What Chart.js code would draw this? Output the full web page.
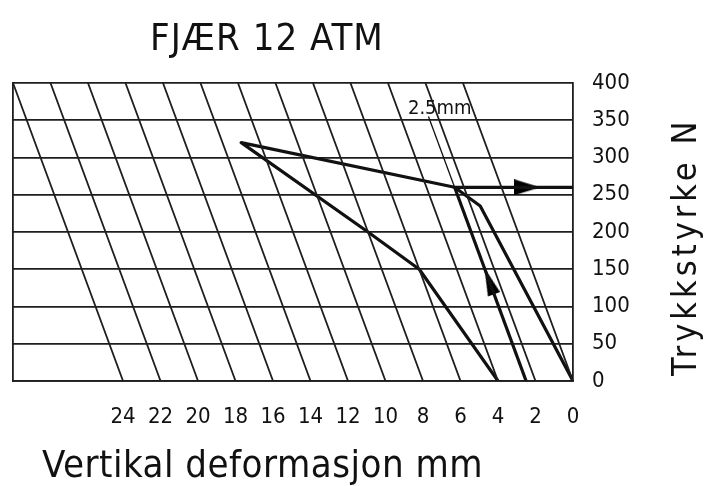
<!DOCTYPE html>
<html><head><meta charset="utf-8">
<style>html,body{margin:0;padding:0;background:#fff;}#wrap{width:710px;height:486px;}</style>
<script src="https://cdn.jsdelivr.net/npm/chart.js@4.4.0/dist/chart.umd.min.js"></script>
</head><body><div id="wrap"><canvas id="c" width="710" height="486"></canvas></div>
<script>
// ---------------- data ----------------
const chartTitle = 'FJÆR 12 ATM';
const xTitle = 'Vertikal deformasjon mm';
const yTitle = 'Trykkstyrke N';
const xTicks = [0, 2, 4, 6, 8, 10, 12, 14, 16, 18, 20, 22, 24];      // mm
const yTicks = [0, 50, 100, 150, 200, 250, 300, 350, 400];           // N
const gridDef = [0, 2, 4, 6, 8, 10, 12, 14, 16, 18, 20, 22, 24];     // lines of constant deformation (mm)
const gridForce = [0, 400];                                          // N
// curves: deformation (mm) and force (N)
const loopDef   = [4, 6, 8, 13, 2.5];
const loopForce = [0, 150, 200, 320, 260];
const unloadDef   = [2.5, 1.5, 0];
const unloadForce = [260, 235, 0];
const riseDef   = [2.5, 2.5];
const riseForce = [0, 260];
const runDef   = [2.5, -4];
const runForce = [260, 260];
const refDef   = [2.5, 2.5];          // thin "2.5mm" reference line
const refForce = [0, 355];
const noteText = '2.5mm';
const noteDef = 1.75, noteForce = 365;
const arrowDef   = [-1.37, 2.5];
const arrowForce = [260, 134];
const arrowRot   = [0, -110];

// the deformation lines lean: horizontal offset (mm on the axis) per N of force
const SHEAR = 5.87 / 400;

// ---------------- helpers ----------------
const INK = '#111';
const GRID = '#1e1e1e';
const FONT = '"DejaVu Sans Condensed", "DejaVu Sans", sans-serif';
const toPts = (defs, forces) => defs.map((d, i) => ({x: d + forces[i] * SHEAR, y: forces[i]}));
const gridPts = [];
gridDef.forEach(d => {
  gridForce.forEach(f => gridPts.push({x: d + f * SHEAR, y: f}));
  gridPts.push({x: d, y: null});
});
function arrowImg(len, wid) {
  const c = document.createElement('canvas');
  c.width = len; c.height = wid;
  const g = c.getContext('2d');
  g.fillStyle = '#000';
  g.beginPath(); g.moveTo(0, 0); g.lineTo(len, wid / 2); g.lineTo(0, wid); g.closePath(); g.fill();
  return c;
}
const arrowR = arrowImg(26, 16);
const arrowU = arrowImg(28, 13);

const textPlugin = {
  id: 'texts',
  afterDraw(chart) {
    const ctx = chart.ctx;
    const sx = chart.scales.x, sy = chart.scales.y;
    const spacing = v => { try { ctx.letterSpacing = v; } catch (e) {} };
    ctx.save();
    ctx.fillStyle = INK;
    ctx.textBaseline = 'alphabetic';
    ctx.textAlign = 'left';
    ctx.font = '38px ' + FONT;
    spacing('1px');
    ctx.fillText(chartTitle, 150, 50);
    spacing('0.5px');
    ctx.fillText(xTitle, 42, 477);
    // note
    spacing('0px');
    ctx.font = '20px ' + FONT;
    ctx.textAlign = 'center';
    ctx.textBaseline = 'middle';
    ctx.fillText(noteText, sx.getPixelForValue(noteDef + noteForce * SHEAR), sy.getPixelForValue(noteForce));
    // rotated y title
    ctx.translate(696, 376);
    ctx.rotate(-Math.PI / 2);
    ctx.textAlign = 'left';
    ctx.textBaseline = 'alphabetic';
    ctx.font = '34px ' + FONT;
    spacing('4px');
    ctx.fillText(yTitle, 0, 0);
    ctx.restore();
  }
};

const lineDs = (label, data, w) => ({
  label, data, borderColor: INK, borderWidth: w, pointRadius: 0,
  borderJoinStyle: 'round', borderCapStyle: 'butt', yAxisID: 'y', xAxisID: 'x'
});

new Chart(document.getElementById('c'), {
  type: 'line',
  data: {
    datasets: [
      {label: 'grid', data: gridPts, borderColor: GRID, borderWidth: 1.8, pointRadius: 0, spanGaps: false, yAxisID: 'y', xAxisID: 'x'},
      lineDs('2.5mm', toPts(refDef, refForce), 1.3),
      lineDs('loop', toPts(loopDef, loopForce), 3.2),
      lineDs('unload', toPts(unloadDef, unloadForce), 3.2),
      lineDs('rise', toPts(riseDef, riseForce), 3.2),
      lineDs('run', toPts(runDef, runForce), 3.2),
      {label: 'arrows', data: toPts(arrowDef, arrowForce), showLine: false,
       pointStyle: [arrowR, arrowU], rotation: arrowRot, pointRadius: 6, yAxisID: 'y', xAxisID: 'x'}
    ]
  },
  options: {
    responsive: false,
    animation: false,
    layout: {padding: {top: 83, left: 0, right: 0, bottom: 0}},
    plugins: {legend: {display: false}, tooltip: {enabled: false}, title: {display: false}},
    scales: {
      x: {
        type: 'linear', reverse: true, min: 0, max: 24 + 400 * SHEAR,
        afterBuildTicks: s => { s.ticks = xTicks.map(v => ({value: v})); },
        afterFit: s => { s.height = 105; },
        ticks: {autoSkip: false, maxRotation: 0, padding: 15, color: INK, font: {family: FONT, size: 22}},
        grid: {display: false},
        border: {display: true, color: GRID, width: 1.8}
      },
      y: {
        type: 'linear', position: 'right', min: 0, max: 400,
        afterBuildTicks: s => { s.ticks = yTicks.map(v => ({value: v})); },
        afterFit: s => { s.width = 137; },
        ticks: {padding: 19, color: INK, font: {family: FONT, size: 22}},
        grid: {color: GRID, lineWidth: 1.8, drawTicks: false},
        border: {display: true, color: GRID, width: 1.8}
      },
      yL: {
        type: 'linear', position: 'left', min: 0, max: 400,
        afterFit: s => { s.width = 13; },
        ticks: {display: false},
        grid: {display: false, drawTicks: false},
        border: {display: true, color: GRID, width: 1.8}
      }
    }
  },
  plugins: [textPlugin]
});
</script></body></html>
